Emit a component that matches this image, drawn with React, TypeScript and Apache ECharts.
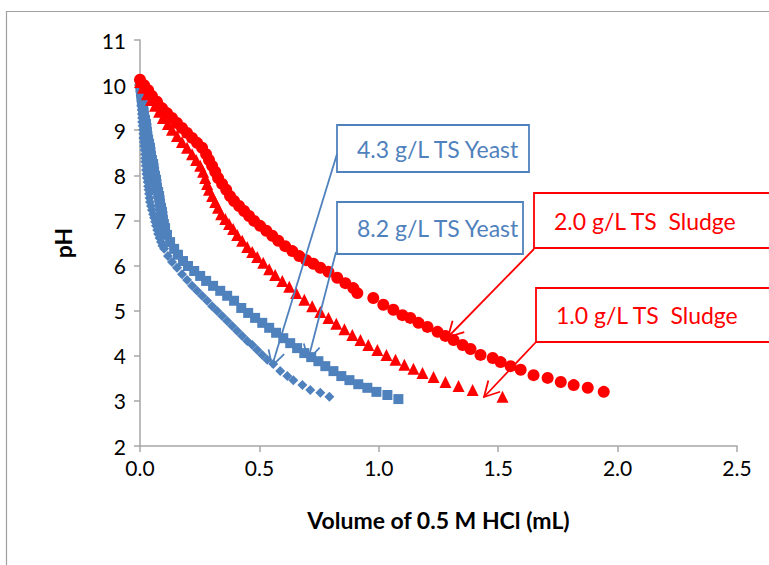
import React, { useEffect, useRef } from "react";
import * as echarts from "echarts";

// Titration curves: volume of 0.5 M HCl (mL) vs pH
const yeast43: [number, number][] = [
  [0.0, 10.07], [0.001, 9.98], [0.002, 9.89], [0.003, 9.8], [0.004, 9.72], [0.005, 9.63],
  [0.005, 9.54], [0.007, 9.45], [0.008, 9.36], [0.009, 9.27], [0.009, 9.18], [0.011, 9.1],
  [0.013, 9.01], [0.014, 8.92], [0.014, 8.83], [0.016, 8.74], [0.017, 8.65], [0.019, 8.56],
  [0.021, 8.47], [0.022, 8.38], [0.022, 8.3], [0.024, 8.21], [0.025, 8.12], [0.027, 8.03],
  [0.029, 7.94], [0.032, 7.85], [0.034, 7.76], [0.036, 7.68], [0.038, 7.59], [0.04, 7.5],
  [0.042, 7.41], [0.046, 7.32], [0.05, 7.23], [0.055, 7.14], [0.059, 7.06], [0.063, 6.97],
  [0.067, 6.88], [0.072, 6.79], [0.076, 6.7], [0.082, 6.61], [0.088, 6.52], [0.094, 6.44],
  [0.101, 6.37], [0.117, 6.21], [0.134, 6.08],
  [0.155, 5.95], [0.176, 5.81], [0.197, 5.68], [0.218, 5.55], [0.239, 5.44], [0.26, 5.33],
  [0.281, 5.22], [0.302, 5.1], [0.323, 4.99], [0.344, 4.88], [0.365, 4.77], [0.386, 4.66],
  [0.407, 4.55], [0.428, 4.44], [0.449, 4.33], [0.47, 4.24], [0.491, 4.13], [0.512, 4.02],
  [0.533, 3.91], [0.558, 3.82], [0.587, 3.66], [0.617, 3.55], [0.642, 3.46], [0.68, 3.35],
  [0.713, 3.24], [0.755, 3.18], [0.793, 3.09],
];

const yeast82: [number, number][] = [
  [0.0, 10.03], [0.002, 9.94], [0.004, 9.85], [0.006, 9.76], [0.008, 9.67], [0.011, 9.58],
  [0.013, 9.49], [0.015, 9.4], [0.017, 9.32], [0.021, 9.23], [0.025, 9.14], [0.027, 9.05],
  [0.029, 8.96], [0.031, 8.87], [0.034, 8.79], [0.038, 8.7], [0.042, 8.61], [0.044, 8.52],
  [0.046, 8.43], [0.05, 8.34], [0.055, 8.25], [0.057, 8.16], [0.059, 8.08], [0.063, 7.99],
  [0.067, 7.9], [0.069, 7.81], [0.071, 7.72], [0.076, 7.63], [0.08, 7.54], [0.082, 7.45],
  [0.084, 7.37], [0.088, 7.28], [0.092, 7.19], [0.094, 7.1], [0.096, 7.01], [0.1, 6.92],
  [0.105, 6.83], [0.113, 6.68], [0.126, 6.52], [0.143, 6.37], [0.159, 6.24], [0.18, 6.1],
  [0.201, 5.99], [0.227, 5.88], [0.252, 5.77], [0.277, 5.66], [0.306, 5.55], [0.336, 5.44],
  [0.365, 5.33], [0.394, 5.22], [0.424, 5.06], [0.453, 4.95], [0.482, 4.84], [0.512, 4.73],
  [0.541, 4.62], [0.57, 4.51], [0.6, 4.39], [0.629, 4.28], [0.658, 4.17], [0.688, 4.06],
  [0.717, 3.97], [0.747, 3.88], [0.776, 3.77], [0.81, 3.66], [0.843, 3.55], [0.877, 3.46],
  [0.914, 3.37], [0.952, 3.29], [0.99, 3.2], [1.036, 3.13], [1.082, 3.04],
];

const sludge10: [number, number][] = [
  [0.0, 10.07], [0.013, 9.94], [0.029, 9.8], [0.046, 9.67], [0.063, 9.54], [0.08, 9.41],
  [0.096, 9.27], [0.117, 9.14], [0.134, 9.01], [0.155, 8.87], [0.176, 8.74], [0.197, 8.61],
  [0.218, 8.47], [0.235, 8.34], [0.252, 8.21], [0.264, 8.08], [0.273, 7.94], [0.281, 7.81],
  [0.289, 7.68], [0.302, 7.54], [0.315, 7.41], [0.327, 7.28], [0.34, 7.14], [0.357, 7.03],
  [0.373, 6.92], [0.39, 6.81], [0.407, 6.68], [0.428, 6.55], [0.449, 6.41], [0.47, 6.3],
  [0.491, 6.19], [0.516, 6.06], [0.541, 5.92], [0.566, 5.79], [0.596, 5.66], [0.625, 5.53],
  [0.654, 5.39], [0.688, 5.24], [0.721, 5.1], [0.755, 4.97], [0.789, 4.84], [0.822, 4.71],
  [0.856, 4.59], [0.889, 4.46], [0.923, 4.35], [0.956, 4.24], [0.994, 4.13], [1.032, 4.02],
  [1.07, 3.91], [1.107, 3.8], [1.145, 3.71], [1.183, 3.62], [1.229, 3.53], [1.279, 3.42],
  [1.334, 3.33], [1.393, 3.24], [1.518, 3.09],
];

const sludge20: [number, number][] = [
  [0.0, 10.12], [0.017, 10.0], [0.034, 9.89], [0.05, 9.76], [0.071, 9.63], [0.092, 9.49],
  [0.113, 9.38], [0.134, 9.27], [0.155, 9.16], [0.176, 9.05], [0.197, 8.94], [0.218, 8.83],
  [0.239, 8.72], [0.26, 8.61], [0.277, 8.47], [0.289, 8.34], [0.302, 8.21], [0.315, 8.08],
  [0.327, 7.94], [0.344, 7.81], [0.361, 7.68], [0.377, 7.54], [0.394, 7.43], [0.415, 7.32],
  [0.436, 7.21], [0.457, 7.1], [0.478, 6.99], [0.503, 6.88], [0.529, 6.77], [0.554, 6.66],
  [0.579, 6.55], [0.608, 6.43], [0.638, 6.32], [0.667, 6.21], [0.696, 6.12], [0.726, 6.04],
  [0.755, 5.95], [0.789, 5.86], [0.826, 5.73], [0.86, 5.61], [0.893, 5.5], [0.91, 5.39],
  [0.977, 5.28], [1.019, 5.13], [1.061, 5.02], [1.099, 4.9], [1.132, 4.84], [1.166, 4.73],
  [1.204, 4.64], [1.246, 4.53], [1.279, 4.44], [1.313, 4.35], [1.351, 4.24], [1.384, 4.15],
  [1.426, 4.02], [1.477, 3.95], [1.51, 3.86], [1.552, 3.77], [1.594, 3.69], [1.648, 3.57],
  [1.707, 3.51], [1.762, 3.42], [1.816, 3.35], [1.875, 3.29], [1.942, 3.2],
];

const seriesNames = ["4.3 g/L TS Yeast", "8.2 g/L TS Yeast", "1.0 g/L TS  Sludge", "2.0 g/L TS  Sludge"];
const xTickLabels = ["0.0", "0.5", "1.0", "1.5", "2.0", "2.5"];

const BLUE = "#4f81bd";
const RED = "#ff0000";
const AXIS = "#a6a6a6";
const FONT = "Lato, 'Open Sans', sans-serif";

// Callout arrow: shaft plus an open V-shaped head
function arrow(x1: number, y1: number, x2: number, y2: number, color: string) {
  const a = Math.atan2(y2 - y1, x2 - x1);
  const len = 17;
  const spread = 0.5;
  const p1 = [x2 - len * Math.cos(a - spread), y2 - len * Math.sin(a - spread)];
  const p2 = [x2 - len * Math.cos(a + spread), y2 - len * Math.sin(a + spread)];
  return [
    { type: "line", z: 100, shape: { x1, y1, x2, y2 }, style: { stroke: color, lineWidth: 1.8 } },
    {
      type: "polyline",
      z: 100,
      shape: { points: [p1, [x2, y2], p2] },
      style: { stroke: color, lineWidth: 1.8, fill: null },
    },
  ];
}

function callout(x: number, y: number, w: number, h: number, label: string, color: string) {
  return [
    {
      type: "rect",
      z: 90,
      shape: { x, y, width: w, height: h },
      style: { fill: "#ffffff", stroke: color, lineWidth: 1.8 },
    },
    {
      type: "text",
      z: 95,
      x: x + 20,
      y: y + h / 2,
      style: {
        text: label,
        fill: color,
        font: `23px ${FONT}`,
        verticalAlign: "middle",
        align: "left",
      },
    },
  ];
}

export default function App() {
  const ref = useRef<HTMLDivElement>(null);

  useEffect(() => {
    if (!ref.current) return;
    const chart = echarts.init(ref.current, undefined, { renderer: "svg" });
    const scatter = (name: string, data: [number, number][], symbol: string, size: number, color: string) => ({
      name,
      type: "scatter",
      data,
      symbol,
      symbolSize: size,
      itemStyle: { color, opacity: 1 },
    });

    chart.setOption({
      animation: false,
      backgroundColor: "#ffffff",
      grid: { left: 140, right: 32, top: 40, bottom: 119 },
      xAxis: {
        type: "value",
        min: 0,
        max: 2.5,
        interval: 0.5,
        name: "Volume of 0.5 M HCl (mL)",
        nameLocation: "middle",
        nameGap: 62,
        nameTextStyle: { fontFamily: FONT, fontWeight: "bold", fontSize: 23, color: "#000" },
        axisLine: { show: true, lineStyle: { color: AXIS, width: 1.5 } },
        axisTick: { show: true, length: 6, lineStyle: { color: AXIS, width: 1.5 } },
        splitLine: { show: false },
        axisLabel: {
          margin: 11,
          fontFamily: FONT,
          fontSize: 21,
          color: "#000",
          formatter: (v: number) => xTickLabels[Math.round(v / 0.5)] ?? String(v),
        },
      },
      yAxis: {
        type: "value",
        min: 2,
        max: 11,
        interval: 1,
        name: "pH",
        nameLocation: "middle",
        nameGap: 66,
        nameRotate: 90,
        nameTextStyle: { fontFamily: FONT, fontWeight: "bold", fontSize: 23, color: "#000" },
        axisLine: { show: true, lineStyle: { color: AXIS, width: 1.5 } },
        axisTick: { show: true, length: 6, lineStyle: { color: AXIS, width: 1.5 } },
        splitLine: { show: false },
        axisLabel: { margin: 14, fontFamily: FONT, fontSize: 21, color: "#000" },
      },
      series: [
        scatter(seriesNames[0], yeast43, "diamond", 10, BLUE),
        scatter(seriesNames[1], yeast82, "rect", 10, BLUE),
        scatter(seriesNames[2], sludge10, "triangle", 12, RED),
        scatter(seriesNames[3], sludge20, "circle", 12, RED),
      ],
      graphic: [
        // chart frame
        {
          type: "rect",
          z: 1,
          shape: { x: 6.5, y: 11.5, width: 800, height: 600 },
          style: { fill: null, stroke: "#a0a0a0", lineWidth: 1.2 },
        },
        ...callout(337, 125, 192, 47, seriesNames[0], BLUE),
        ...callout(337, 202, 186, 52, seriesNames[1], BLUE),
        ...callout(534, 193, 260, 55, seriesNames[3], RED),
        ...callout(536, 288, 260, 54, seriesNames[2], RED),
        ...arrow(337, 154, 272, 366, BLUE),
        ...arrow(336, 252, 308, 360, BLUE),
        ...arrow(534, 249, 448, 337, RED),
        ...arrow(536, 342, 484, 397, RED),
      ],
    });
    return () => chart.dispose();
  }, []);

  return (
    <div
      ref={ref}
      style={{ position: "absolute", left: 0, top: 0, width: 769, height: 565 }}
    />
  );
}
